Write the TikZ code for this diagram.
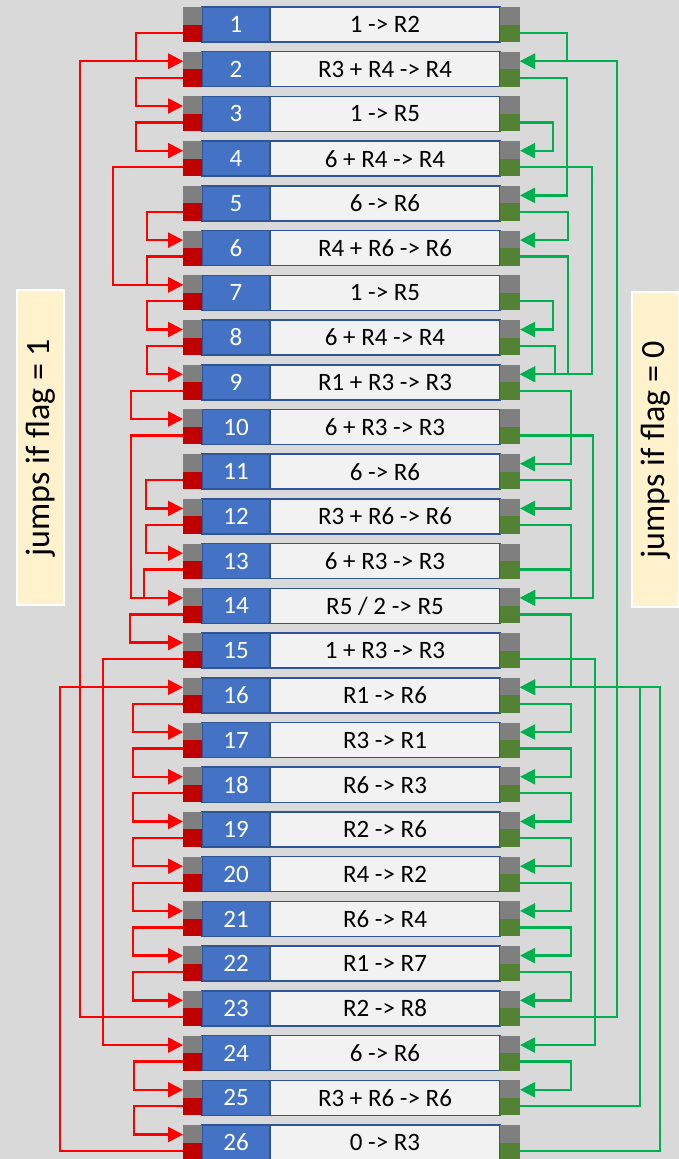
\documentclass[tikz,border=0pt]{standalone}
\usepackage{fontspec}
\setmainfont{Carlito}
\usetikzlibrary{arrows.meta, positioning}

\definecolor{canvas}{HTML}{D9D9D9}
\definecolor{gategray}{HTML}{7F7F7F}
\definecolor{gatered}{HTML}{C00000}
\definecolor{gategreen}{HTML}{548235}
\definecolor{numblue}{HTML}{4472C4}
\definecolor{rimblue}{HTML}{2F5597}
\definecolor{opgray}{HTML}{F2F2F2}
\definecolor{jumpred}{HTML}{FF0000}
\definecolor{jumpgreen}{HTML}{00B050}
\definecolor{noteyellow}{HTML}{FFF2CC}

\begin{document}
\begin{tikzpicture}[x=1pt,y=-1pt,
    every node/.style={outer sep=0pt, inner sep=0pt},
    numbox/.style={fill=numblue, draw=rimblue, line width=1.5pt,
      minimum width=68pt, minimum height=35pt, text=white, font=\fontsize{25}{25}\selectfont},
    opbox/.style={fill=opgray, draw=rimblue, line width=1.5pt,
      minimum width=230pt, minimum height=35pt, font=\fontsize{25}{25}\selectfont},
    gate/.style={fill=gategray, minimum width=19pt, minimum height=35pt},
    lgate/.style={gate, path picture={\fill[gatered] (path picture bounding box.west)
      rectangle (path picture bounding box.south east);}},
    rgate/.style={gate, path picture={\fill[gategreen] (path picture bounding box.west)
      rectangle (path picture bounding box.south east);}},
    redjump/.style={draw=jumpred, line width=2.3pt, -{Triangle[length=15pt,width=15pt]}},
    greenjump/.style={draw=jumpgreen, line width=2.3pt, -{Triangle[length=15pt,width=15pt]}},
    flagnote/.style={fill=noteyellow, draw=white, line width=2pt, rotate=90,
      minimum width=315pt, minimum height=47pt, font=\fontsize{34}{34}\selectfont}]

  \useasboundingbox[fill=canvas] (0,0) rectangle (679,1159);

  % instruction rows
  \foreach \op [count=\i] in {1 -> R2, R3 + R4 -> R4, 1 -> R5, 6 + R4 -> R4,
      6 -> R6, R4 + R6 -> R6, 1 -> R5, 6 + R4 -> R4, R1 + R3 -> R3,
      6 + R3 -> R3, 6 -> R6, R3 + R6 -> R6, 6 + R3 -> R3, R5 / 2 -> R5,
      1 + R3 -> R3, R1 -> R6, R3 -> R1, R6 -> R3, R2 -> R6, R4 -> R2,
      R6 -> R4, R1 -> R7, R2 -> R8, 6 -> R6, R3 + R6 -> R6, 0 -> R3} {
    \pgfmathsetmacro{\y}{24.5+(\i-1)*44.72}
    \node[numbox] (n\i) at (236,\y) {\i};
    \node[opbox, right=0pt of n\i] (o\i) {\op};
    \node[lgate, left=0pt of n\i] (l\i) {};
    \node[rgate, right=0pt of o\i, minimum width=20pt] (r\i) {};
  }

  % jumps taken when the flag is set
  \foreach \a/\b/\d in {1/2/47, 2/3/47, 3/4/47, 4/7/70, 5/6/36, 6/7/36, 7/8/36,
      8/9/36, 9/10/52, 10/14/52, 11/12/37, 12/13/37, 13/14/39, 14/15/53,
      15/24/80, 16/17/50, 17/18/50, 18/19/50, 19/20/50, 20/21/50, 21/22/50,
      22/23/50, 23/2/103, 24/25/49, 25/26/49, 26/16/123}
    \draw[redjump] ([yshift=-8.5pt]l\a.west) -- ++(-\d,0) |- ([yshift=8pt]l\b.west);

  % jumps taken when the flag is clear
  \foreach \a/\b/\d in {1/2/47, 2/5/47, 3/4/33, 4/9/72, 5/6/48, 6/9/48, 7/8/33,
      8/9/35, 9/11/51, 10/14/73, 11/12/51, 12/14/51, 13/14/51, 14/16/51,
      15/24/75, 16/17/51, 17/18/51, 18/19/51, 19/20/51, 20/21/51, 21/22/51,
      22/23/51, 23/2/97, 24/25/51, 25/16/120, 26/16/140}
    \draw[greenjump] ([yshift=-8.5pt]r\a.east) -- ++(\d,0) |- ([yshift=8pt]r\b.east);

  \node[flagnote] (set) at (40.5,447.5) {jumps if flag = 1};
  \node[flagnote] (clear) at (655.5,449.5) {jumps if flag = 0};
\end{tikzpicture}
\end{document}
